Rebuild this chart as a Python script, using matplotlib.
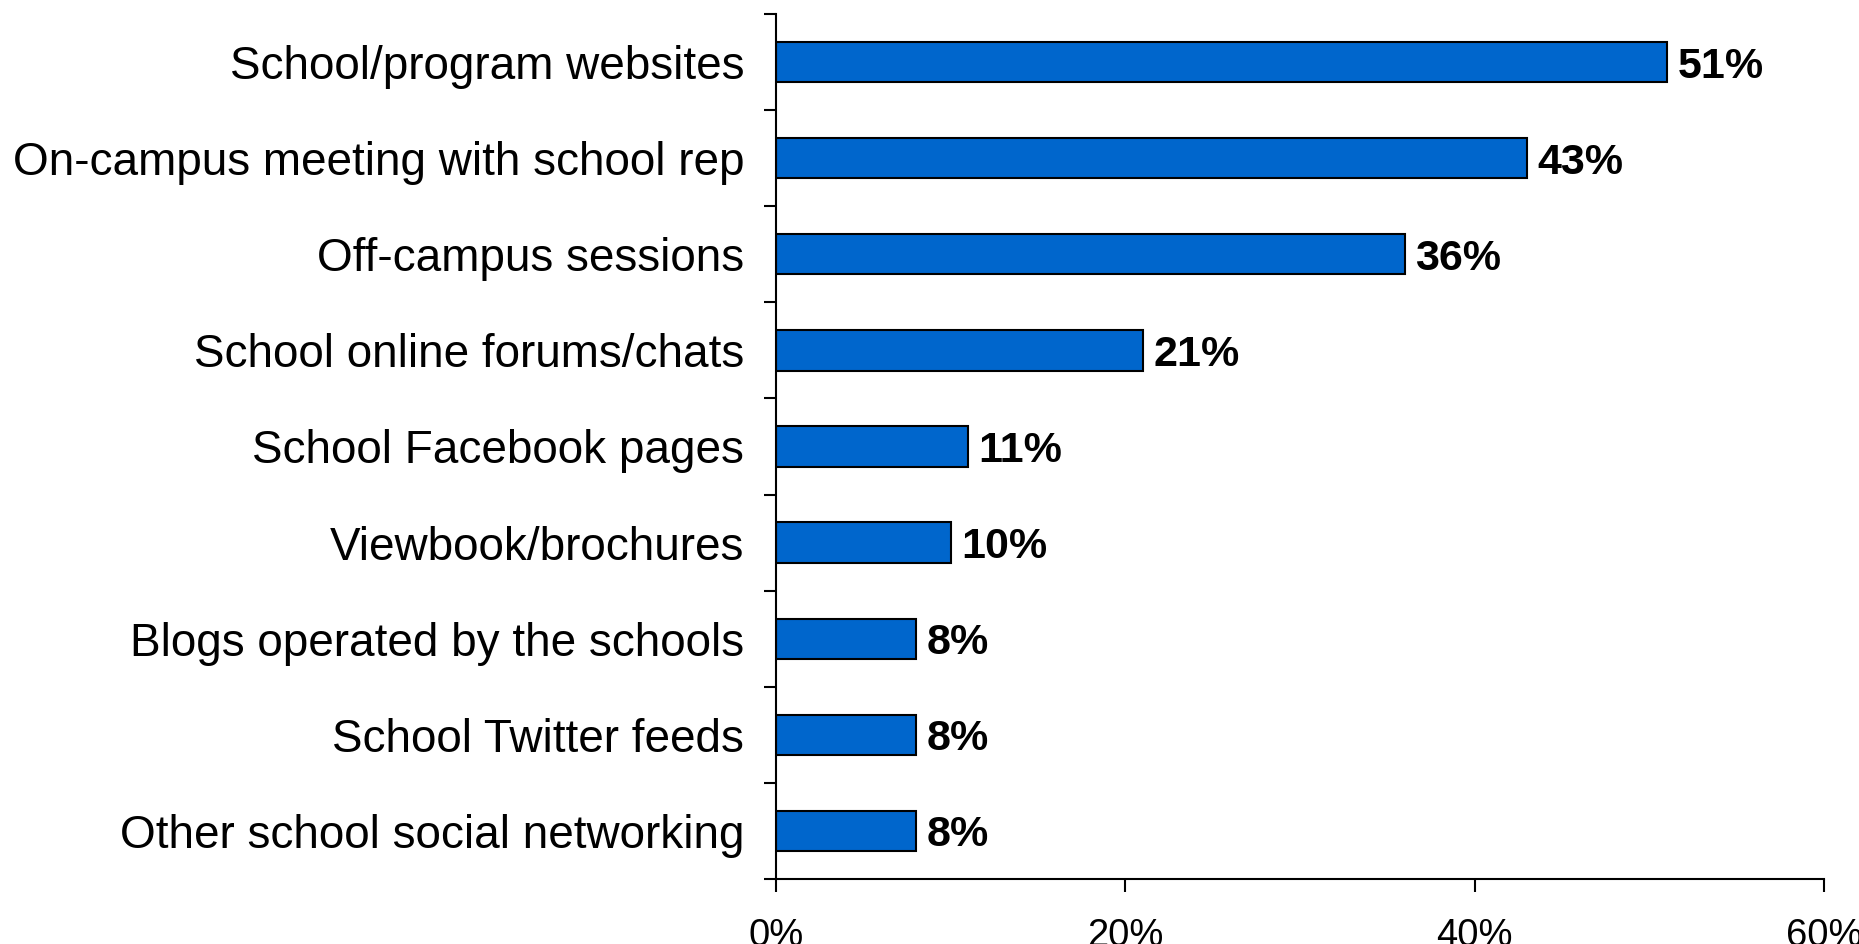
import numpy as np
import matplotlib
matplotlib.use("Agg")
import matplotlib.pyplot as plt
from matplotlib.ticker import FuncFormatter

plt.rcParams['font.family'] = ['Liberation Sans', 'DejaVu Sans']

# survey results, top to bottom
sources = ["School/program websites",
           "On-campus meeting with school rep",
           "Off-campus sessions",
           "School online forums/chats",
           "School Facebook pages",
           "Viewbook/brochures",
           "Blogs operated by the schools",
           "School Twitter feeds",
           "Other school social networking"]
share = [51, 43, 36, 21, 11, 10, 8, 8, 8]
xticks = [0, 20, 40, 60]

fig = plt.figure(figsize=(18.59, 9.44), dpi=100)
ax = fig.add_axes([0.4174, 0.0689, 0.5638, 0.9163])

y = np.arange(len(sources))
ax.barh(y, share, height=0.42, color="#0066CC", edgecolor="black", linewidth=1.5)

for yi, v in zip(y, share):
    ax.text(v + 0.6, yi, f"{v}%", va="center_baseline", ha="left",
            fontsize=31, fontweight="bold")

ax.set_ylim(len(sources) - 0.5, -0.5)
ax.set_xlim(0, 60)
ax.set_xticks(xticks)
ax.xaxis.set_major_formatter(FuncFormatter(lambda v, p: f"{v:.0f}%"))

# category ticks sit on the boundaries, labels in the middle
ax.set_yticks(np.arange(len(sources) + 1) - 0.5)
ax.set_yticklabels([])
ax.set_yticks(y, minor=True)
ax.set_yticklabels(sources, minor=True, fontsize=33)
ax.tick_params(axis="y", which="minor", length=0, pad=23)
ax.tick_params(axis="y", which="major", length=9, width=1.5)
ax.tick_params(axis="x", length=9, width=1.5, labelsize=27.5, pad=19)

for s in ["top", "right"]:
    ax.spines[s].set_visible(False)
for s in ["left", "bottom"]:
    ax.spines[s].set_linewidth(1.5)

fig.savefig("out.png", dpi=100)
